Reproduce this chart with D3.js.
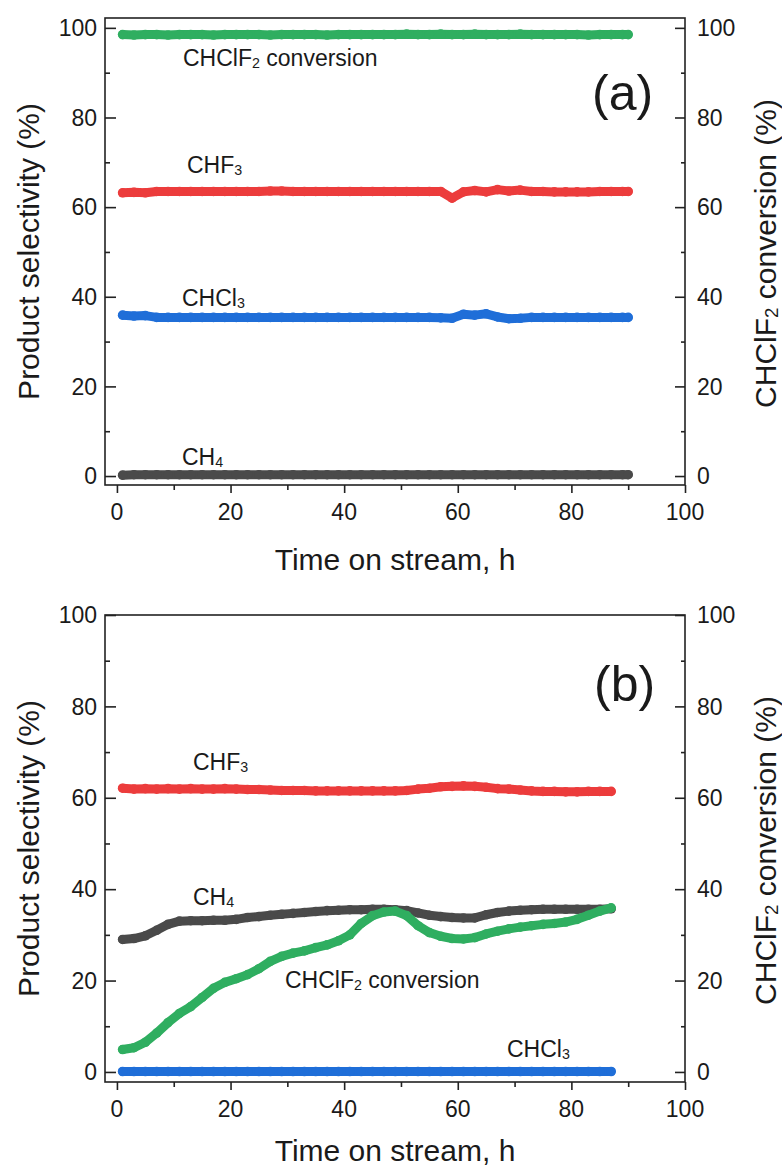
<!DOCTYPE html>
<html>
<head>
<meta charset="utf-8">
<script src="https://cdn.jsdelivr.net/npm/d3@7"></script>
<style>
  html, body { margin: 0; padding: 0; background: #fff; }
  svg { display: block; }
  text { font-family: "Liberation Sans", Arial, Helvetica, sans-serif; fill: #1a1a1a; }
</style>
</head>
<body>
<svg id="chart" width="782" height="1169"></svg>
<script>
// ---------------- DATA ----------------
// Panel (a): time on stream (h)
const timeA = [1,3,5,7,9,11,13,15,17,19,21,23,25,27,29,31,33,35,37,39,41,43,45,47,49,51,53,55,57,59,61,63,65,67,69,71,73,75,77,79,81,83,85,87,89,90];
const convA = [98.5,98.4,98.5,98.5,98.4,98.5,98.5,98.5,98.4,98.5,98.5,98.5,98.5,98.4,98.5,98.5,98.5,98.5,98.4,98.5,98.5,98.5,98.5,98.5,98.5,98.6,98.5,98.5,98.6,98.5,98.5,98.6,98.5,98.5,98.5,98.6,98.5,98.5,98.5,98.5,98.5,98.4,98.5,98.5,98.5,98.5];
const chf3A = [63.2,63.3,63.2,63.5,63.5,63.5,63.5,63.5,63.5,63.5,63.5,63.5,63.5,63.6,63.6,63.5,63.5,63.5,63.5,63.5,63.5,63.5,63.5,63.5,63.5,63.5,63.5,63.5,63.5,62.0,63.4,63.7,63.4,63.9,63.6,63.8,63.5,63.5,63.4,63.4,63.4,63.4,63.5,63.5,63.5,63.5];
const chcl3A = [35.9,35.7,35.8,35.4,35.4,35.4,35.4,35.4,35.4,35.4,35.4,35.4,35.4,35.4,35.4,35.4,35.4,35.4,35.4,35.4,35.4,35.4,35.4,35.4,35.4,35.4,35.4,35.4,35.3,35.2,36.1,35.9,36.2,35.5,35.1,35.2,35.4,35.4,35.4,35.4,35.4,35.4,35.4,35.4,35.4,35.4];
const ch4A = [0.2,0.3,0.3,0.3,0.3,0.3,0.3,0.3,0.3,0.3,0.3,0.3,0.3,0.3,0.3,0.3,0.3,0.3,0.3,0.3,0.3,0.3,0.3,0.3,0.3,0.3,0.3,0.3,0.3,0.3,0.3,0.3,0.3,0.3,0.3,0.3,0.3,0.3,0.3,0.3,0.3,0.3,0.3,0.3,0.3,0.3];

// Panel (b): time on stream (h)
const timeB = [1,3,5,7,9,11,13,15,17,19,21,23,25,27,29,31,33,35,37,39,41,43,45,47,49,51,53,55,57,59,61,63,65,67,69,71,73,75,77,79,81,83,85,87];
const chf3B = [62.1,61.9,62.0,61.9,62.0,61.9,62.0,61.9,61.9,62.0,61.9,61.8,61.8,61.7,61.6,61.6,61.6,61.5,61.5,61.5,61.5,61.5,61.5,61.5,61.5,61.6,61.9,62.1,62.4,62.5,62.6,62.5,62.3,62.0,61.9,61.7,61.5,61.4,61.4,61.3,61.3,61.4,61.4,61.4];
const ch4B = [29.0,29.2,29.8,31.0,32.3,33.0,33.1,33.1,33.2,33.2,33.4,33.8,34.0,34.3,34.5,34.7,34.9,35.1,35.3,35.4,35.5,35.5,35.6,35.6,35.5,35.3,34.8,34.3,34.0,33.8,33.7,33.7,34.4,34.9,35.2,35.4,35.5,35.6,35.6,35.6,35.6,35.6,35.6,35.7];
const convB = [4.9,5.3,6.5,8.5,10.8,12.8,14.3,16.3,18.3,19.6,20.4,21.3,22.6,24.2,25.3,26.0,26.5,27.2,27.8,28.7,30.0,32.5,34.2,35.0,35.2,34.2,32.0,30.5,29.7,29.2,29.1,29.4,30.2,30.8,31.3,31.7,32.0,32.3,32.5,32.8,33.4,34.3,35.2,35.9];
const chcl3B = [0.1,0.1,0.1,0.1,0.1,0.1,0.1,0.1,0.1,0.1,0.1,0.1,0.1,0.1,0.1,0.1,0.1,0.1,0.1,0.1,0.1,0.1,0.1,0.1,0.1,0.1,0.1,0.1,0.1,0.1,0.1,0.1,0.1,0.1,0.1,0.1,0.1,0.1,0.1,0.1,0.1,0.1,0.1,0.1];

const xTicks = [0, 20, 40, 60, 80, 100];
const xMinorTicks = [10, 30, 50, 70, 90];
const yTicks = [0, 20, 40, 60, 80, 100];
const yMinorTicks = [10, 30, 50, 70, 90];

const COLORS = { conv: "#2fae60", chf3: "#ec3c3c", chcl3: "#1f6ed8", ch4: "#4a4a4a" };

// ---------------- DRAWING ----------------
const svg = d3.select("#chart");

function chemText(g, parts, size) {
  // parts: array of [string, isSub]
  const t = g.append("text").attr("font-size", size);
  parts.forEach(([s, sub], i) => {
    const ts = t.append("tspan").text(s);
    if (sub) {
      ts.attr("font-size", size * 0.62).attr("dy", size * 0.08);
    } else if (i > 0 && parts[i - 1][1]) {
      ts.attr("dy", -size * 0.08);
    }
  });
  return t;
}

function panel(cfg) {
  const x = d3.scaleLinear().domain([-2.1, 100]).range([105, 685]);
  const y = d3.scaleLinear().domain(cfg.yDomain).range([cfg.bottom, cfg.top]);
  const g = svg.append("g");

  // series
  const line = d3.line().x(d => x(d[0])).y(d => y(d[1]));
  cfg.series.forEach(s => {
    const pts = cfg.time.map((t, i) => [t, s.values[i]]);
    g.append("path")
      .attr("d", line(pts))
      .attr("fill", "none")
      .attr("stroke", s.color)
      .attr("stroke-width", 9)
      .attr("stroke-linecap", "round")
      .attr("stroke-linejoin", "round");
    g.selectAll(null).data(pts).enter().append("circle")
      .attr("cx", d => x(d[0])).attr("cy", d => y(d[1]))
      .attr("r", 4.8).attr("fill", s.color);
  });

  // frame
  g.append("rect")
    .attr("x", 105).attr("y", cfg.top)
    .attr("width", 580).attr("height", cfg.bottom - cfg.top)
    .attr("fill", "none").attr("stroke", "#222").attr("stroke-width", 1.6);

  // left axis (inward ticks)
  const left = g.append("g").attr("transform", "translate(105,0)");
  left.call(d3.axisRight(y).tickValues(yTicks).tickSize(11).tickFormat(""));
  left.append("g").call(d3.axisRight(y).tickValues(yMinorTicks).tickSize(5).tickFormat(""));
  left.selectAll(".domain").remove();
  left.selectAll("line").attr("stroke", "#222").attr("stroke-width", 1.6);
  g.selectAll(null).data(yTicks).enter().append("text")
    .attr("x", 97).attr("y", d => y(d)).attr("dy", "0.36em")
    .attr("text-anchor", "end").attr("font-size", 23).text(d => d);

  // right axis (inward ticks)
  const right = g.append("g").attr("transform", "translate(685,0)");
  right.call(d3.axisLeft(y).tickValues(yTicks).tickSize(10).tickFormat(""));
  right.append("g").call(d3.axisLeft(y).tickValues(yMinorTicks).tickSize(4).tickFormat(""));
  right.selectAll(".domain").remove();
  right.selectAll("line").attr("stroke", "#222").attr("stroke-width", 1.6);
  g.selectAll(null).data(yTicks).enter().append("text")
    .attr("x", 697).attr("y", d => y(d)).attr("dy", "0.36em")
    .attr("text-anchor", "start").attr("font-size", 23).text(d => d);

  // bottom axis (outward ticks)
  const bottom = g.append("g").attr("transform", `translate(0,${cfg.bottom})`);
  bottom.call(d3.axisBottom(x).tickValues(xTicks).tickSize(8).tickFormat(""));
  bottom.append("g").call(d3.axisBottom(x).tickValues(xMinorTicks).tickSize(5).tickFormat(""));
  bottom.selectAll(".domain").remove();
  bottom.selectAll("line").attr("stroke", "#222").attr("stroke-width", 1.6);
  g.selectAll(null).data(xTicks).enter().append("text")
    .attr("x", d => x(d)).attr("y", cfg.bottom + 35)
    .attr("text-anchor", "middle").attr("font-size", 23).text(d => d);

  // axis titles
  g.append("text")
    .attr("transform", `translate(${395},${cfg.bottom + cfg.xTitleOffset}) `)
    .attr("text-anchor", "middle").attr("font-size", 30)
    .text("Time on stream, h");
  g.append("text")
    .attr("transform", `translate(39,${(cfg.top + cfg.bottom) / 2}) rotate(-90)`)
    .attr("text-anchor", "middle").attr("font-size", 30)
    .text("Product selectivity (%)");
  const rt = g.append("g").attr("transform", `translate(776,${(cfg.top + cfg.bottom) / 2 + 2}) rotate(-90)`);
  chemText(rt, [["CHClF", false], ["2", true], [" conversion (%)", false]], 30)
    .attr("text-anchor", "middle");

  // panel letter
  g.append("text").attr("x", cfg.letterX).attr("y", cfg.letterY)
    .attr("font-size", 50).text(cfg.letter);

  // annotations
  cfg.labels.forEach(l => {
    chemText(g, l.parts, 23).attr("x", l.x).attr("y", l.y);
  });
}

panel({
  top: 18, bottom: 485, yDomain: [-2, 102.2], xTitleOffset: 85,
  time: timeA,
  series: [
    { values: ch4A, color: COLORS.ch4 },
    { values: chcl3A, color: COLORS.chcl3 },
    { values: chf3A, color: COLORS.chf3 },
    { values: convA, color: COLORS.conv }
  ],
  letter: "(a)", letterX: 592, letterY: 110,
  labels: [
    { parts: [["CHClF", false], ["2", true], [" conversion", false]], x: 183, y: 66 },
    { parts: [["CHF", false], ["3", true]], x: 187, y: 173 },
    { parts: [["CHCl", false], ["3", true]], x: 182, y: 306 },
    { parts: [["CH", false], ["4", true]], x: 182, y: 465 }
  ]
});

panel({
  top: 615, bottom: 1082, yDomain: [-2.2, 100], xTitleOffset: 79,
  time: timeB,
  series: [
    { values: chf3B, color: COLORS.chf3 },
    { values: ch4B, color: COLORS.ch4 },
    { values: convB, color: COLORS.conv },
    { values: chcl3B, color: COLORS.chcl3 }
  ],
  letter: "(b)", letterX: 594, letterY: 701,
  labels: [
    { parts: [["CHF", false], ["3", true]], x: 193, y: 770 },
    { parts: [["CH", false], ["4", true]], x: 193, y: 905 },
    { parts: [["CHClF", false], ["2", true], [" conversion", false]], x: 285, y: 988 },
    { parts: [["CHCl", false], ["3", true]], x: 507, y: 1057 }
  ]
});
</script>
</body>
</html>
